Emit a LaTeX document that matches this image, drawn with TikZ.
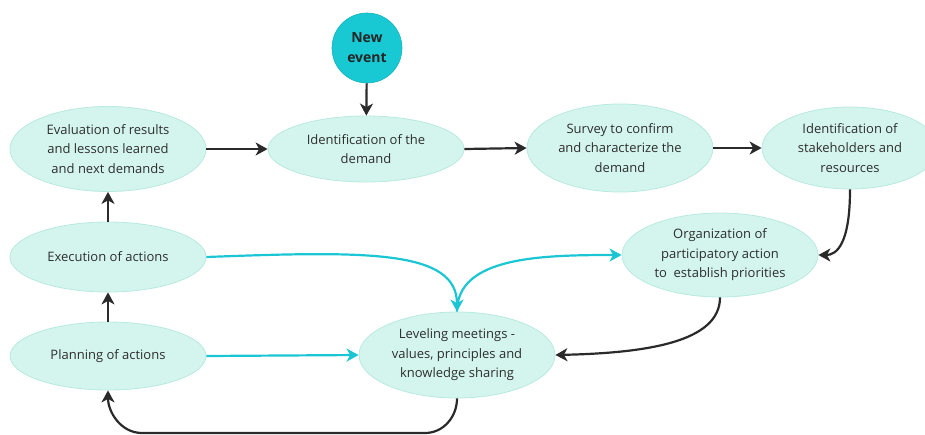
\documentclass[tikz,border=0pt]{standalone}
\usepackage{fontspec}
\setmainfont{Open Sans}
\usetikzlibrary{shapes.geometric,arrows.meta}
\definecolor{mint}{HTML}{D3F5EE}
\definecolor{mintline}{HTML}{B8EADF}
\definecolor{cyanev}{HTML}{18C8D2}
\definecolor{cyanline}{HTML}{1BC6D4}
\definecolor{darkline}{HTML}{2A2A2A}
\definecolor{txt}{HTML}{2E2E2E}
\tikzset{
  oval/.style={ellipse, draw=mintline, line width=0.8pt, fill=mint, inner sep=0pt,
    align=center, text=txt, font=\fontsize{13}{19.5}\selectfont},
  darrow/.style={draw=darkline, line width=2.2pt, -{Stealth[length=12pt,width=13pt,inset=3.5pt]}},
  carrow/.style={draw=cyanline, line width=2.2pt, -{Stealth[length=12pt,width=13pt,inset=3.5pt]}},
}
\begin{document}
\begin{tikzpicture}[x=1pt,y=-1pt]
\useasboundingbox (0,0) rectangle (925,434);
\clip (0,0) rectangle (925,434);
\node[circle, fill=cyanev, draw=cyanev!90!black, line width=0.6pt, minimum size=70pt, inner sep=0pt,
  align=center, font=\bfseries\fontsize{14}{20}\selectfont, text=black!85] (new) at (367,48) {New\\event};
\node[oval, minimum width=196pt, minimum height=85pt] (eval) at (108,149) {Evaluation of results\\and lessons learned\\and next demands};
\node[oval, minimum width=196pt, minimum height=66pt] (ident) at (366,149) {Identification of the\\demand};
\node[oval, minimum width=186pt, minimum height=88pt] (survey) at (620,148) {Survey to confirm\\and characterize the\\demand};
\node[oval, minimum width=176pt, minimum height=82pt] (stake) at (850,148) {Identification of\\stakeholders and\\resources};
\node[oval, minimum width=196pt, minimum height=70pt] (exec) at (108,257) {Execution of actions};
\node[oval, minimum width=196pt, minimum height=84pt] (org) at (720,255) {Organization of\\participatory action\\to\ \ establish priorities};
\node[oval, minimum width=196pt, minimum height=68pt] (plan) at (108,356) {Planning of actions};
\node[oval, minimum width=196pt, minimum height=86pt] (level) at (457,355) {Leveling meetings -\\values, principles and\\knowledge sharing};

\coordinate (b1) at (425,433);
\coordinate (b2) at (142,433);

\draw[darrow] (new) -- (ident);
\draw[darrow] (eval.east) -- (ident.west);
\draw[darrow] (ident.east) -- (survey.west);
\draw[darrow] (survey.east) -- (stake.west);
\draw[darrow] (stake.south) .. controls +(0,55) and +(18,0) .. (org.east);
\draw[darrow] (org.south) .. controls +(0,45) and +(90,-2) .. (level.east);
\draw[darrow] (level.south) to[out=-90,in=0] (b1) -- (b2) to[out=180,in=-90] (plan.south);
\draw[darrow] (plan.north) -- (exec.south);
\draw[darrow] (exec.north) -- (eval.south);
\draw[carrow] (plan.east) -- (level.west);
\draw[carrow] (level.north) .. controls +(0,-55) and +(-80,0) .. (org.west);
\draw[carrow] (exec.east) .. controls +(160,-6) and +(0,-62) .. (level.north);
\end{tikzpicture}
\end{document}
